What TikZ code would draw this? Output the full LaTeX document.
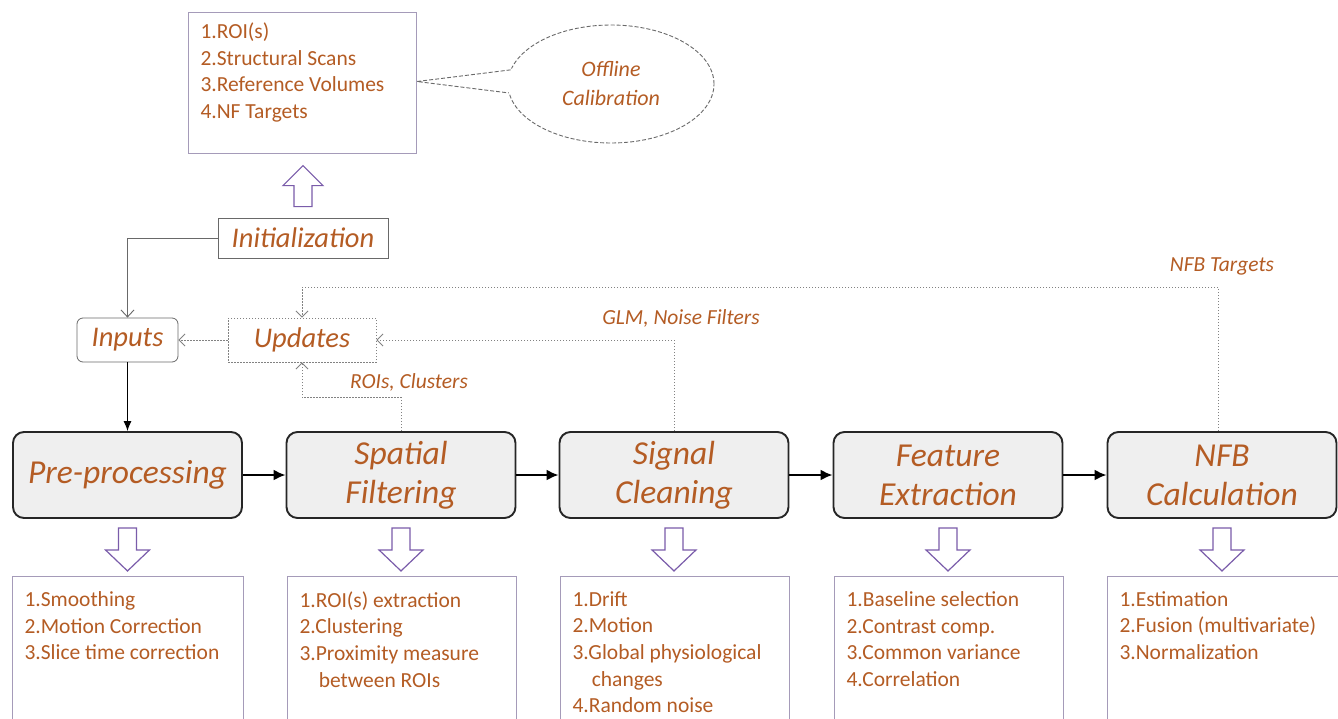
\documentclass[tikz,border=0pt]{standalone}
\usepackage{fontspec}
\setmainfont{Carlito}
\usetikzlibrary{arrows.meta,calc,shapes.geometric}
\definecolor{txt}{RGB}{180,92,36}
\definecolor{frame}{RGB}{165,155,185}
\definecolor{harrow}{RGB}{122,92,170}
\definecolor{boxfill}{RGB}{239,239,239}
\definecolor{lin}{RGB}{105,105,105}
\definecolor{dotc}{RGB}{130,130,130}
\begin{document}
\begin{tikzpicture}[x=1pt,y=-1pt,
  mainbox/.style={draw=black!85, line width=1.9pt, fill=boxfill, rounded corners=11pt,
    minimum width=229pt, minimum height=86pt, align=center, text=txt,
    font=\fontsize{33.5}{39}\selectfont\itshape, inner sep=0pt},
  listbox/.style={draw=frame, line width=1pt, anchor=north west, inner xsep=12pt, inner ysep=10pt,
    text=txt, font=\fontsize{21.5}{26.6}\selectfont},
  smallbox/.style={draw=lin, line width=0.8pt, minimum height=44pt, text=txt,
    font=\fontsize{28.5}{32}\selectfont\itshape, inner sep=0pt},
  lbl/.style={text=txt, font=\fontsize{21.5}{25}\selectfont\itshape},
  flow/.style={line width=2pt, -{Latex[length=12pt,width=11pt]}},
  dline/.style={dotc, line width=0.9pt, dash pattern=on 1.5pt off 1.5pt, -{Straight Barb[length=6pt,width=12pt]}},
  harrowst/.style={draw=harrow, line width=1.2pt, fill=white},
  hdown/.pic={\draw[harrowst] (-9,0) -- (9,0) -- (9,22) -- (22,22) -- (0,43) -- (-22,22) -- (-9,22) -- cycle;},
  hup/.pic={\draw[harrowst] (-9,0) -- (9,0) -- (9,-21) -- (20,-21) -- (0,-41) -- (-20,-21) -- (-9,-21) -- cycle;}
]
\useasboundingbox (0,0) rectangle (1338,718);
\fill[white] (0,0) rectangle (1338,718);

% top list box and callout
\node[listbox, minimum width=228pt, minimum height=141pt] (top) at (188,12)
  {\parbox[t][120pt][t]{204pt}{1.ROI(s)\\2.Structural Scans\\3.Reference Volumes\\4.NF Targets}};
\node[ellipse, draw=lin, line width=0.9pt, dash pattern=on 4pt off 2pt, minimum width=206pt, minimum height=118pt,
  text=txt, align=center, font=\fontsize{22}{29}\selectfont\itshape] (cal) at (611,84) {Offline\\Calibration};
\coordinate (tip) at ($(top.east)+(0,-1.5)$);
\fill[white] (tip) -- ($(cal.172)+(6,-2)$) -- ($(cal.185)+(6,2)$) -- cycle;
\draw[lin, line width=0.9pt, dash pattern=on 4pt off 2pt] (cal.172) -- (tip) -- (cal.185);

% initialization, inputs, updates
\node[smallbox, minimum width=170pt, minimum height=40pt] (init) at (303,238) {Initialization};
\pic at ($(init.north)+(0,-11)$) {hup};
\node[smallbox, rounded corners=6pt, minimum width=101pt] (inp) at (127.5,340) {Inputs};
\node[smallbox, draw=dotc, dash pattern=on 1.5pt off 1.5pt, minimum width=148pt] (upd) at (302,340) {Updates};

% main pipeline
\node[mainbox] (pre) at (127.5,475) {Pre-processing};
\node[mainbox] (spa) at (401,475) {Spatial\\Filtering};
\node[mainbox] (sig) at (674,475) {Signal\\Cleaning};
\node[mainbox] (fea) at (948,475) {Feature\\Extraction};
\node[mainbox] (nfb) at (1222,475) {NFB\\Calculation};
\draw[flow] (pre) -- (spa);
\draw[flow] (spa) -- (sig);
\draw[flow] (sig) -- (fea);
\draw[flow] (fea) -- (nfb);

% connectors
\draw[lin, line width=0.9pt, -{Straight Barb[length=7pt,width=13pt]}] (init.west) -| (inp.north);
\draw[line width=1pt, -{Latex[length=10pt,width=8pt]}] (inp.south) -- (inp.south |- pre.north);
\draw[dline] (upd.west) -- (inp.east);
\draw[dline] (spa.north) |- ($(upd.south)+(0,35)$) -- (upd.south);
\draw[dline] (sig.north) |- (upd.east);
\draw[dline] ($(nfb.north)+(-4,0)$) -- ++(0,-144) -| (upd.north);
\node[lbl] (l1) at (409,382) {ROIs, Clusters};
\node[lbl] (l2) at (681,318) {GLM, Noise Filters};
\node[lbl] (l3) at (1222,266) {NFB Targets};

% down hollow arrows
\foreach \n in {pre,spa,sig,fea,nfb} { \pic at ($(\n.south)+(0,9)$) {hdown}; }

% bottom list boxes
\tikzset{blist/.style={listbox, inner ysep=13pt, minimum height=170pt}}
\node[blist, minimum width=231pt] (b1) at (12,576)
  {\parbox[t][140pt][t]{207pt}{1.Smoothing\\2.Motion Correction\\3.Slice time correction}};
\node[blist, minimum width=229pt] (b2) at (287,576)
  {\parbox[t][140pt][t]{205pt}{1.ROI(s) extraction\\2.Clustering\\3.Proximity measure\\\hspace*{0.9em}between ROIs}};
\node[blist, minimum width=229pt] (b3) at (560,576)
  {\parbox[t][140pt][t]{205pt}{1.Drift\\2.Motion\\3.Global physiological\\\hspace*{0.9em}changes\\4.Random noise}};
\node[blist, minimum width=229pt] (b4) at (834,576)
  {\parbox[t][140pt][t]{205pt}{1.Baseline selection\\2.Contrast comp.\\3.Common variance\\4.Correlation}};
\node[blist, minimum width=231pt] (b5) at (1107,576)
  {\parbox[t][140pt][t]{207pt}{1.Estimation\\2.Fusion (multivariate)\\3.Normalization}};
\end{tikzpicture}
\end{document}
